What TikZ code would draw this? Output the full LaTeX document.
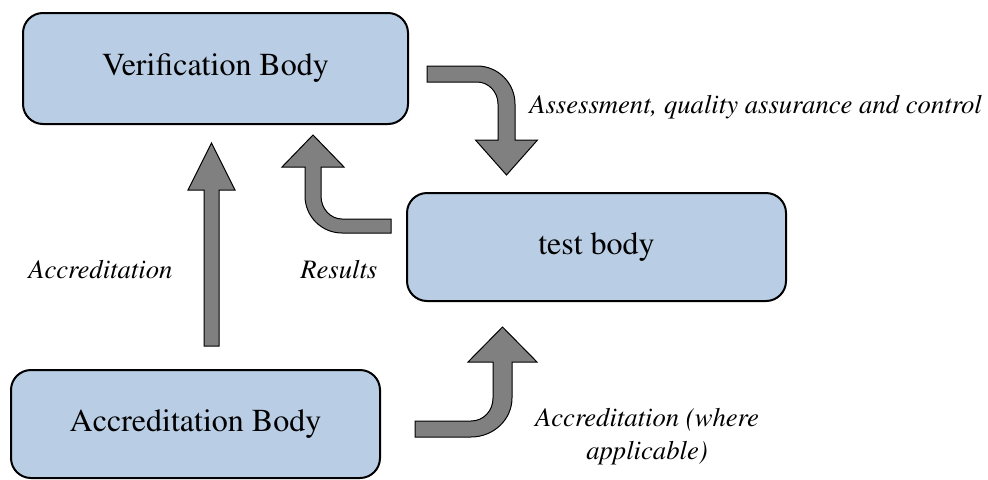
\documentclass[tikz,border=0pt]{standalone}
\usepackage[T1]{fontenc}
\renewcommand{\rmdefault}{ptm}
\usepackage{tikz}
\usetikzlibrary{
  calc,
  positioning,
}
\definecolor{boxblue}{RGB}{185, 205, 228}
\definecolor{arrowgrey}{RGB}{128, 128, 128}
\tikzstyle{body} = [
  draw=black,
  line width=1.5pt,
  fill=boxblue,
  rounded corners=15pt,
  font=\fontsize{24}{28}\selectfont,
]
\tikzstyle{fat} = [
  draw=black,
  line width=0.75pt,
  fill=arrowgrey,
  line join=miter,
]
\tikzstyle{caption} = [
  font=\fontsize{20}{24.75}\selectfont\itshape,
  inner sep=0pt,
]

\begin{document}
\begin{tikzpicture}[x=0.75pt, y=-0.75pt]

        \useasboundingbox (0,0) rectangle (988,479);

        %% the three bodies
        \node [body, minimum width=288.75pt, minimum height=83.25pt] (verif) at (215.5,68.5) {Verification Body};
        \node [body, minimum width=284.25pt, minimum height=81pt] (test) at (596.5,247) {test body};
        \node [body, minimum width=276.75pt, minimum height=81pt] (accred) at (195.5,424) {Accreditation Body};

        %% accreditation -> verification
        \draw [fat] (204,346) -- (204,190) -- (188,190) -- (211.5,143)
          -- (235,190) -- (219,190) -- (219,346) -- cycle;

        %% verification -> test
        \draw [fat] (427,66) -- (477,66) .. controls (498,66) and (515,83) .. (515,104)
          -- (515,140) -- (537.5,140) -- (506.5,175) -- (475.5,140) -- (498,140)
          -- (498,104) .. controls (498,92) and (488.6,82) .. (477,82) -- (427,82) -- cycle;

        %% test -> verification
        \draw [fat] (391,219) -- (342,219) .. controls (330.4,219) and (321,208.7) .. (321,196)
          -- (321,167) -- (344,167) -- (313,135) -- (282,167) -- (305,167)
          -- (305,196) .. controls (305,216.4) and (321.6,233) .. (342,233) -- (391,233) -- cycle;

        %% accreditation -> test
        \draw [fat] (415,421) -- (471,421) .. controls (483.7,421) and (493,410.7) .. (493,398)
          -- (493,362) -- (468,362) -- (502.5,327) -- (537,362) -- (512,362)
          -- (512,398) .. controls (512,419.5) and (493.6,437) .. (471,437) -- (415,437) -- cycle;

        %% labels
        \node [caption, anchor=base west] (lassess) at (529,113) {Assessment, quality assurance and control};
        \node [caption, anchor=base west] (laccred) at (28,278) {Accreditation};
        \node [caption, anchor=base west] (lresults) at (300,278) {Results};
        \node [caption, align=center] (lwhere) at (647,437) {Accreditation (where\\applicable)};
      \end{tikzpicture}
\end{document}
